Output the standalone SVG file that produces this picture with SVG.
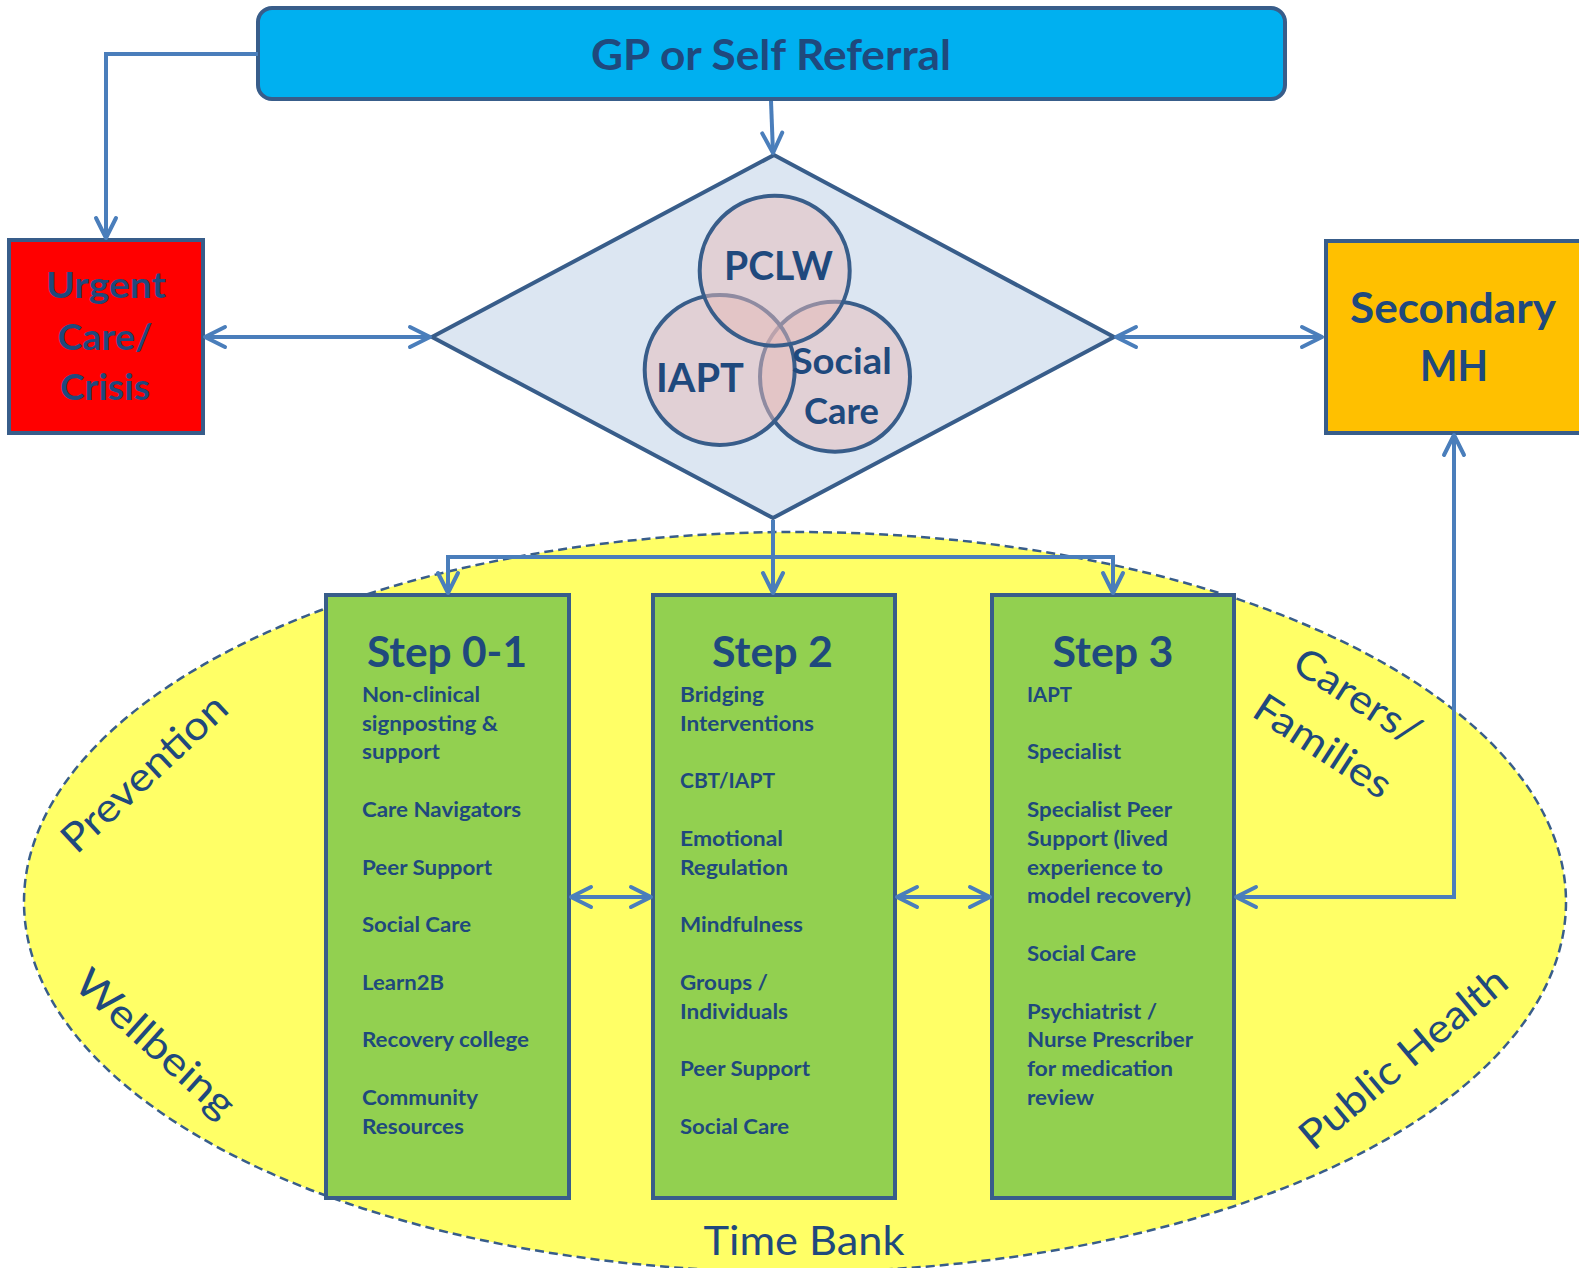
<svg xmlns="http://www.w3.org/2000/svg" width="1579" height="1268" viewBox="0 0 1579 1268">
<style>
.node{stroke:#385D8A;stroke-width:4}
.t{font-family:Lato,'Liberation Sans',sans-serif;font-weight:700;fill:#1F497D}
.c{text-anchor:middle}
.item{font-size:21px}
.lbl{font-family:Lato,'Liberation Sans',sans-serif;font-weight:400;font-size:40px;fill:#1F497D;text-anchor:middle}
.conn{fill:none;stroke:#4A7EBB;stroke-width:4}
.circ{fill:#E6B9B8;fill-opacity:0.5;stroke:#385D8A;stroke-width:4}
</style>
<defs>
<marker id="ah" markerUnits="userSpaceOnUse" viewBox="-23 -13 28 26" markerWidth="28" markerHeight="26" refX="0" refY="0" orient="auto-start-reverse">
<path d="M-20,-10 L0,0 L-20,10" fill="none" stroke="#4A7EBB" stroke-width="4" stroke-linecap="round" stroke-linejoin="round"/>
</marker>
</defs>
<rect width="1579" height="1268" fill="#FFFFFF"/>

<g id="context-ellipse">
<ellipse cx="795" cy="902" rx="771" ry="370" fill="#FFFF66" stroke="#385D8A" stroke-width="2.5" stroke-dasharray="9 5"/>
<g transform="translate(144,773) rotate(-43)"><text class="lbl" x="0" y="14" textLength="211" lengthAdjust="spacingAndGlyphs">Prevention</text></g>
<g transform="translate(153,1046) rotate(42)"><text class="lbl" x="0" y="10" textLength="200" lengthAdjust="spacingAndGlyphs">Wellbeing</text></g>
<g transform="translate(1357,697) rotate(33)"><text class="lbl" x="0" y="13" textLength="143" lengthAdjust="spacingAndGlyphs">Carers/</text></g>
<g transform="translate(1323,746) rotate(33)"><text class="lbl" x="0" y="14" textLength="156" lengthAdjust="spacingAndGlyphs">Families</text></g>
<g transform="translate(1403,1058) rotate(-40)"><text class="lbl" x="0" y="14" textLength="258" lengthAdjust="spacingAndGlyphs">Public Health</text></g>
<text class="lbl" x="804" y="1255" textLength="201" lengthAdjust="spacingAndGlyphs">Time Bank</text>
</g>

<g id="gp-referral">
<rect class="node" x="258" y="8" width="1027" height="91" rx="14" fill="#00B0F0"/>
<text class="t c" x="771" y="70" font-size="42" textLength="360" lengthAdjust="spacingAndGlyphs">GP or Self Referral</text>
</g>

<g id="urgent-care">
<rect class="node" x="9" y="240" width="194" height="193" fill="#FF0000"/>
<text class="t c" x="106" y="298" font-size="37" textLength="120" lengthAdjust="spacingAndGlyphs">Urgent</text>
<text class="t c" x="105" y="350" font-size="37" textLength="95" lengthAdjust="spacingAndGlyphs">Care/</text>
<text class="t c" x="105" y="400" font-size="37" textLength="90" lengthAdjust="spacingAndGlyphs">Crisis</text>
</g>

<g id="secondary-mh">
<rect class="node" x="1326" y="241" width="260" height="192" fill="#FFC000"/>
<text class="t c" x="1453" y="323" font-size="42" textLength="206" lengthAdjust="spacingAndGlyphs">Secondary</text>
<text class="t c" x="1454" y="381" font-size="42" textLength="68" lengthAdjust="spacingAndGlyphs">MH</text>
</g>

<g id="triage">
<polygon class="node" points="774,155 1114,337 773,518 432,337" fill="#DCE6F2" stroke-linejoin="miter"/>
<circle id="circle-social-care" class="circ" cx="835" cy="376.7" r="75"/>
<circle id="circle-iapt" class="circ" cx="719.7" cy="370" r="75"/>
<circle id="circle-pclw" class="circ" cx="774.7" cy="270.7" r="75"/>
<text class="t c" x="778.5" y="280" font-size="40" textLength="109" lengthAdjust="spacingAndGlyphs">PCLW</text>
<text class="t c" x="700" y="391.7" font-size="40" textLength="88" lengthAdjust="spacingAndGlyphs">IAPT</text>
<text class="t c" x="841.7" y="374" font-size="37" textLength="100" lengthAdjust="spacingAndGlyphs">Social</text>
<text class="t c" x="841.5" y="424" font-size="37" textLength="75" lengthAdjust="spacingAndGlyphs">Care</text>
</g>

<g id="step-0-1">
<rect class="node" x="326" y="595" width="243" height="603" fill="#92D050"/>
<text class="t c" x="447" y="666.7" font-size="42" textLength="160" lengthAdjust="spacingAndGlyphs">Step 0-1</text>
<g class="t item">
<text x="362" y="701.7" textLength="118" lengthAdjust="spacingAndGlyphs">Non-clinical</text>
<text x="362" y="730.5" textLength="136" lengthAdjust="spacingAndGlyphs">signposting &amp;</text>
<text x="362" y="759.3" textLength="78" lengthAdjust="spacingAndGlyphs">support</text>
<text x="362" y="816.9" textLength="159" lengthAdjust="spacingAndGlyphs">Care Navigators</text>
<text x="362" y="874.5" textLength="130" lengthAdjust="spacingAndGlyphs">Peer Support</text>
<text x="362" y="932.1" textLength="109" lengthAdjust="spacingAndGlyphs">Social Care</text>
<text x="362" y="989.7" textLength="82" lengthAdjust="spacingAndGlyphs">Learn2B</text>
<text x="362" y="1047.3" textLength="167" lengthAdjust="spacingAndGlyphs">Recovery college</text>
<text x="362" y="1104.9" textLength="116" lengthAdjust="spacingAndGlyphs">Community</text>
<text x="362" y="1133.7" textLength="102" lengthAdjust="spacingAndGlyphs">Resources</text>
</g>
</g>

<g id="step-2">
<rect class="node" x="653" y="595" width="242" height="603" fill="#92D050"/>
<text class="t c" x="772.5" y="666.7" font-size="42" textLength="121" lengthAdjust="spacingAndGlyphs">Step 2</text>
<g class="t item">
<text x="680" y="701.7" textLength="84" lengthAdjust="spacingAndGlyphs">Bridging</text>
<text x="680" y="730.5" textLength="134" lengthAdjust="spacingAndGlyphs">Interventions</text>
<text x="680" y="788.1" textLength="95" lengthAdjust="spacingAndGlyphs">CBT/IAPT</text>
<text x="680" y="845.7" textLength="103" lengthAdjust="spacingAndGlyphs">Emotional</text>
<text x="680" y="874.5" textLength="108" lengthAdjust="spacingAndGlyphs">Regulation</text>
<text x="680" y="932.1" textLength="123" lengthAdjust="spacingAndGlyphs">Mindfulness</text>
<text x="680" y="989.7" textLength="88" lengthAdjust="spacingAndGlyphs">Groups /</text>
<text x="680" y="1018.5" textLength="108" lengthAdjust="spacingAndGlyphs">Individuals</text>
<text x="680" y="1076.1" textLength="130" lengthAdjust="spacingAndGlyphs">Peer Support</text>
<text x="680" y="1133.7" textLength="109" lengthAdjust="spacingAndGlyphs">Social Care</text>
</g>
</g>

<g id="step-3">
<rect class="node" x="992" y="595" width="242" height="603" fill="#92D050"/>
<text class="t c" x="1113" y="666.7" font-size="42" textLength="121" lengthAdjust="spacingAndGlyphs">Step 3</text>
<g class="t item">
<text x="1027" y="701.7" textLength="45" lengthAdjust="spacingAndGlyphs">IAPT</text>
<text x="1027" y="759.3" textLength="94" lengthAdjust="spacingAndGlyphs">Specialist</text>
<text x="1027" y="816.9" textLength="145" lengthAdjust="spacingAndGlyphs">Specialist Peer</text>
<text x="1027" y="845.7" textLength="141" lengthAdjust="spacingAndGlyphs">Support (lived</text>
<text x="1027" y="874.5" textLength="136" lengthAdjust="spacingAndGlyphs">experience to</text>
<text x="1027" y="903.3" textLength="164" lengthAdjust="spacingAndGlyphs">model recovery)</text>
<text x="1027" y="960.9" textLength="109" lengthAdjust="spacingAndGlyphs">Social Care</text>
<text x="1027" y="1018.5" textLength="130" lengthAdjust="spacingAndGlyphs">Psychiatrist /</text>
<text x="1027" y="1047.3" textLength="166" lengthAdjust="spacingAndGlyphs">Nurse Prescriber</text>
<text x="1027" y="1076.1" textLength="146" lengthAdjust="spacingAndGlyphs">for medication</text>
<text x="1027" y="1104.9" textLength="67" lengthAdjust="spacingAndGlyphs">review</text>
</g>
</g>

<g id="connectors">
<path class="conn" d="M258,54 H106 V238" marker-end="url(#ah)"/>
<path class="conn" d="M771,101 L773,153" marker-end="url(#ah)"/>
<path class="conn" d="M205,337 H430" marker-start="url(#ah)" marker-end="url(#ah)"/>
<path class="conn" d="M1116,337 H1322" marker-start="url(#ah)" marker-end="url(#ah)"/>
<path class="conn" d="M773,520 V593" marker-end="url(#ah)"/>
<path class="conn" d="M448,593 V557 H1113 V593" marker-start="url(#ah)" marker-end="url(#ah)"/>
<path class="conn" d="M571,897 H651" marker-start="url(#ah)" marker-end="url(#ah)"/>
<path class="conn" d="M897,897 H990" marker-start="url(#ah)" marker-end="url(#ah)"/>
<path class="conn" d="M1236,897 H1454 V435" marker-start="url(#ah)" marker-end="url(#ah)"/>
</g>
</svg>
